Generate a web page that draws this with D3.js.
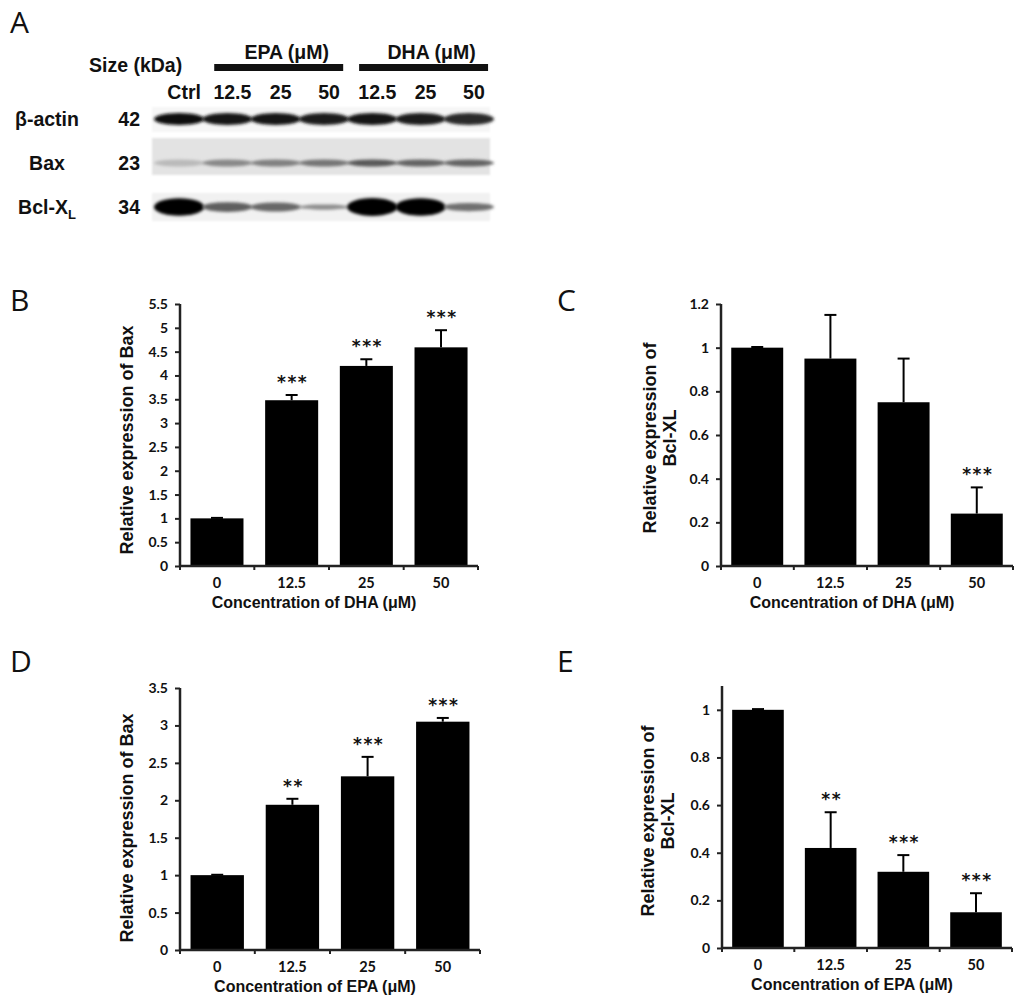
<!DOCTYPE html>
<html>
<head>
<meta charset="utf-8">
<script src="https://cdn.jsdelivr.net/npm/d3@7"></script>
<style>
  body { margin: 0; background: #fff; }
  svg text { fill: #111; }
</style>
</head>
<body>
<svg id="fig" width="1024" height="1006"></svg>
<script>
// ---- data ----
let laneLabels = ["Ctrl", "12.5", "25", "50", "12.5", "25", "50"];
let proteins = ["β-actin", "Bax", "Bcl-X"];
let proteinSizes = ["42", "23", "34"];
// band darkness per lane (0 = none, 1 = black)
let actinBands = [0.95, 0.92, 0.92, 0.9, 0.93, 0.9, 0.86];
let baxBands = [0.38, 0.55, 0.58, 0.62, 0.72, 0.68, 0.68];
let bclBands = [0.97, 0.45, 0.4, 0.15, 1.0, 0.97, 0.35];

let concLabels = ["0", "12.5", "25", "50"];

let baxDHA = [1.0, 3.48, 4.20, 4.59];
let baxDHAErr = [0.01, 0.11, 0.14, 0.36];
let baxDHAStars = ["", "***", "***", "***"];
let baxDHATicks = [0, 0.5, 1, 1.5, 2, 2.5, 3, 3.5, 4, 4.5, 5, 5.5];

let bclDHA = [1.0, 0.95, 0.75, 0.24];
let bclDHAErr = [0.003, 0.20, 0.20, 0.12];
let bclDHAStars = ["", "", "", "***"];
let bclDHATicks = [0, 0.2, 0.4, 0.6, 0.8, 1, 1.2];

let baxEPA = [1.0, 1.94, 2.32, 3.05];
let baxEPAErr = [0.005, 0.08, 0.26, 0.05];
let baxEPAStars = ["", "**", "***", "***"];
let baxEPATicks = [0, 0.5, 1, 1.5, 2, 2.5, 3, 3.5];

let bclEPA = [1.0, 0.42, 0.32, 0.15];
let bclEPAErr = [0.003, 0.15, 0.07, 0.08];
let bclEPAStars = ["", "**", "***", "***"];
let bclEPATicks = [0, 0.2, 0.4, 0.6, 0.8, 1];

// ---- fonts ----
let letterFont = "'Open Sans', sans-serif";
let labelFont = "'Liberation Sans', Arial, sans-serif";
let tickFont = "Lato, 'Open Sans', sans-serif";
let starFont = "'DejaVu Sans', sans-serif";

let svg = d3.select("svg#fig");
svg.append("rect").attr("width", 1024).attr("height", 1006).attr("fill", "#fff");

let defs = svg.append("defs");
defs.append("filter").attr("id", "bandBlur")
    .attr("x", "-20%").attr("y", "-60%").attr("width", "140%").attr("height", "220%")
  .append("feGaussianBlur").attr("stdDeviation", 1.8);
defs.append("filter").attr("id", "stripBlur")
  .append("feGaussianBlur").attr("stdDeviation", 1);

function panelLetter(letter, x, y) {
  svg.append("text")
    .attr("x", x).attr("y", y)
    .style("font-family", letterFont)
    .style("font-size", "30px")
    .text(letter);
}

// ---- panel A : western blot ----
function drawBlot() {
  panelLetter("A", 10, 33);

  let lane = d3.scaleBand().domain(d3.range(laneLabels.length))
               .range([154, 494]).padding(0.04);

  let g = svg.append("g").attr("class", "blot");

  g.append("text").attr("x", 89).attr("y", 72)
    .style("font-family", labelFont).style("font-size", "19.5px").style("font-weight", "bold")
    .text("Size (kDa)");

  // treatment group headers
  let groups = [{name: "EPA (μM)", lanes: [1, 3]}, {name: "DHA (μM)", lanes: [4, 6]}];
  groups.forEach(function(gr) {
    let x0 = lane(gr.lanes[0]) + 10, x1 = lane(gr.lanes[1]) + lane.bandwidth() - 4;
    g.append("rect").attr("x", x0).attr("y", 64).attr("width", x1 - x0).attr("height", 7)
      .attr("fill", "#111");
    g.append("text").attr("x", (x0 + x1) / 2 + 8).attr("y", 59)
      .attr("text-anchor", "middle")
      .style("font-family", labelFont).style("font-size", "19.5px").style("font-weight", "bold")
      .text(gr.name);
  });

  g.selectAll("text.lane").data(laneLabels).enter().append("text")
    .attr("class", "lane")
    .attr("x", function(d, i) { return lane(i) + lane.bandwidth() / 2 + 5; })
    .attr("y", 99)
    .attr("text-anchor", "middle")
    .style("font-family", labelFont).style("font-size", "19.5px").style("font-weight", "bold")
    .text(function(d) { return d; });

  let rows = [
    {y: 119, h: 12, bg: "#f6f6f6", bgY: 107, bgH: 25, bands: actinBands},
    {y: 163, h: 7, bg: "#e3e3e3", bgY: 138, bgH: 37, bands: baxBands},
    {y: 207, h: 0, bg: "#f1f1f1", bgY: 193, bgH: 28, bands: bclBands}
  ];

  rows.forEach(function(r, ri) {
    g.append("rect")
      .attr("x", 152).attr("y", r.bgY).attr("width", 338).attr("height", r.bgH)
      .attr("fill", r.bg).attr("filter", "url(#stripBlur)");

    g.selectAll("ellipse.row" + ri).data(r.bands).enter().append("ellipse")
      .attr("class", "row" + ri)
      .attr("cx", function(d, i) { return lane(i) + lane.bandwidth() / 2; })
      .attr("cy", r.y)
      .attr("rx", lane.bandwidth() / 2 + 2)
      .attr("ry", function(d) { return r.h > 0 ? r.h / 2 : 1.5 + 7.5 * d; })
      .attr("fill", function(d) {
        return r.h > 0 ? d3.interpolateGreys(d) : d3.interpolateGreys(0.45 + 0.55 * d);
      })
      .attr("filter", "url(#bandBlur)");

    let name = g.append("text")
      .attr("x", 47).attr("y", r.y + 7)
      .attr("text-anchor", "middle")
      .style("font-family", labelFont).style("font-size", "19.5px").style("font-weight", "bold")
      .text(proteins[ri]);
    if (ri === 2) {
      name.append("tspan").attr("dy", 5).style("font-size", "13px").text("L");
    }

    g.append("text")
      .attr("x", 140).attr("y", r.y + 7)
      .attr("text-anchor", "end")
      .style("font-family", labelFont).style("font-size", "19.5px").style("font-weight", "bold")
      .text(proteinSizes[ri]);
  });
}

// ---- bar panels ----
function drawBars(p) {
  panelLetter(p.letter, p.lx, p.ly);

  let x = d3.scaleBand().domain(concLabels)
            .range([p.x0, p.x1]).paddingInner(0.29).paddingOuter(0.14);
  let y = d3.scaleLinear().domain([0, p.yMax]).range([p.y0, p.y1]);

  let g = svg.append("g");

  // bars
  g.selectAll("rect.bar").data(p.values).enter().append("rect")
    .attr("class", "bar")
    .attr("x", function(d, i) { return x(concLabels[i]); })
    .attr("width", x.bandwidth())
    .attr("y", function(d) { return y(d); })
    .attr("height", function(d) { return y(0) - y(d); })
    .attr("fill", "#000");

  // upper error whiskers
  let errG = g.selectAll("g.err").data(p.values).enter().append("g")
    .attr("class", "err")
    .attr("stroke", "#000").attr("stroke-width", 2);
  errG.append("line")
    .attr("x1", function(d, i) { return x(concLabels[i]) + x.bandwidth() / 2; })
    .attr("x2", function(d, i) { return x(concLabels[i]) + x.bandwidth() / 2; })
    .attr("y1", function(d) { return y(d); })
    .attr("y2", function(d, i) { return y(d + p.errors[i]); });
  errG.append("line")
    .attr("x1", function(d, i) { return x(concLabels[i]) + x.bandwidth() / 2 - 6; })
    .attr("x2", function(d, i) { return x(concLabels[i]) + x.bandwidth() / 2 + 6; })
    .attr("y1", function(d, i) { return y(d + p.errors[i]); })
    .attr("y2", function(d, i) { return y(d + p.errors[i]); });

  // significance stars
  g.selectAll("text.star").data(p.stars).enter().append("text")
    .attr("class", "star")
    .attr("x", function(d, i) { return x(concLabels[i]) + x.bandwidth() / 2 + 1; })
    .attr("y", function(d, i) { return y(p.values[i] + p.errors[i]) - 7; })
    .attr("text-anchor", "middle")
    .style("font-family", starFont).style("font-size", "17px").style("font-weight", "bold")
    .style("letter-spacing", "1.5px")
    .text(function(d) { return d; });

  // y axis
  let yAxis = g.append("g")
    .attr("transform", "translate(" + p.x0 + ",0)")
    .call(d3.axisLeft(y).tickValues(p.ticks).tickSize(5).tickPadding(7)
            .tickFormat(d3.format("~g")));
  yAxis.select(".domain").attr("d", "M0," + y(0) + "V" + y(p.yMax))
    .attr("stroke", "#222").attr("stroke-width", 2.5);
  yAxis.selectAll(".tick line").attr("stroke", "#222").attr("stroke-width", 2);
  yAxis.selectAll(".tick text")
    .style("font-family", tickFont).style("font-size", "14px").style("font-weight", "bold")
    .attr("fill", "#111");

  // x axis: line, ticks at category boundaries, labels under bars
  let step = x.step();
  let bounds = [p.x0].concat(concLabels.slice(1).map(function(c) {
    return x(c) - (step - x.bandwidth()) / 2;
  })).concat([p.x1]);

  g.append("line")
    .attr("x1", p.x0 - 1).attr("x2", p.x1)
    .attr("y1", y(0)).attr("y2", y(0))
    .attr("stroke", "#222").attr("stroke-width", 2.5);
  g.selectAll("line.xtick").data(bounds).enter().append("line")
    .attr("class", "xtick")
    .attr("x1", function(d) { return d; }).attr("x2", function(d) { return d; })
    .attr("y1", y(0)).attr("y2", y(0) + 4)
    .attr("stroke", "#222").attr("stroke-width", 2);
  g.selectAll("text.xlab").data(concLabels).enter().append("text")
    .attr("class", "xlab")
    .attr("x", function(d) { return x(d) + x.bandwidth() / 2; })
    .attr("y", y(0) + 22)
    .attr("text-anchor", "middle")
    .style("font-family", tickFont).style("font-size", "14.5px").style("font-weight", "bold")
    .text(function(d) { return d; });

  // axis titles
  g.append("text")
    .attr("x", (p.x0 + p.x1) / 2 - 15)
    .attr("y", y(0) + 42)
    .attr("text-anchor", "middle")
    .style("font-family", labelFont).style("font-size", "16px").style("font-weight", "bold")
    .text(p.xTitle);

  let yt = g.append("text")
    .attr("transform", "translate(" + p.tx + "," + p.ty + ") rotate(-90)")
    .attr("text-anchor", "middle")
    .style("font-family", labelFont).style("font-size", "18px").style("font-weight", "bold");
  p.yTitle.forEach(function(line, i) {
    yt.append("tspan").attr("x", 0).attr("dy", i === 0 ? 0 : 20).text(line);
  });
}

drawBlot();

drawBars({letter: "B", lx: 10, ly: 311, x0: 180, x1: 478, y0: 566, y1: 304, yMax: 5.5,
          ticks: baxDHATicks, values: baxDHA, errors: baxDHAErr, stars: baxDHAStars,
          xTitle: "Concentration of DHA (μM)", yTitle: ["Relative expression of Bax"],
          tx: 133, ty: 440});

drawBars({letter: "C", lx: 557, ly: 311, x0: 721, x1: 1013, y0: 566, y1: 304, yMax: 1.2,
          ticks: bclDHATicks, values: bclDHA, errors: bclDHAErr, stars: bclDHAStars,
          xTitle: "Concentration of DHA (μM)", yTitle: ["Relative expression of", "Bcl-XL"],
          tx: 656, ty: 438});

drawBars({letter: "D", lx: 10, ly: 672, x0: 180, x1: 480, y0: 950, y1: 688, yMax: 3.5,
          ticks: baxEPATicks, values: baxEPA, errors: baxEPAErr, stars: baxEPAStars,
          xTitle: "Concentration of EPA (μM)", yTitle: ["Relative expression of Bax"],
          tx: 133, ty: 828});

drawBars({letter: "E", lx: 557, ly: 672, x0: 722, x1: 1012, y0: 948, y1: 686, yMax: 1.1,
          ticks: bclEPATicks, values: bclEPA, errors: bclEPAErr, stars: bclEPAStars,
          xTitle: "Concentration of EPA (μM)", yTitle: ["Relative expression of", "Bcl-XL"],
          tx: 654, ty: 821});
</script>
</body>
</html>
